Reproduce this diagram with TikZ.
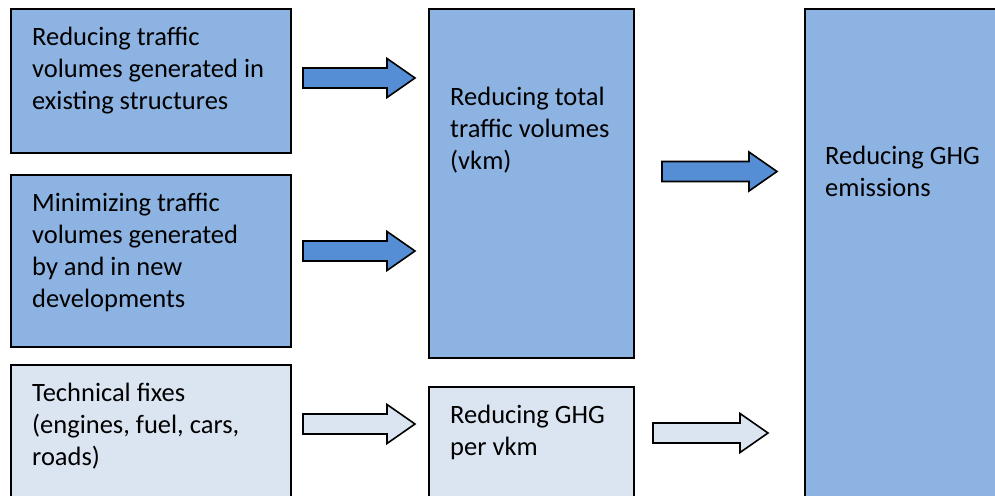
\documentclass[tikz,border=0pt]{standalone}
\usepackage{fontspec}
\setmainfont{Carlito}
\definecolor{boxdark}{HTML}{8DB3E2}
\definecolor{boxlight}{HTML}{DBE5F1}
\definecolor{arrowdark}{HTML}{558ED5}
\tikzset{
  box/.style={draw=black, line width=1.6pt, rectangle, inner sep=0pt, anchor=north west},
  darkbox/.style={box, fill=boxdark},
  lightbox/.style={box, fill=boxlight},
  txt/.style={anchor=base west, inner sep=0pt, align=left, font=\fontsize{26.5}{32}\selectfont},
  blockarrow/.style={draw=black, line width=1.6pt, line join=miter},
}
% block arrow: start x, tip x, centre y (y grows downward), fill colour
\newcommand{\myblockarrow}[4]{%
  \draw[blockarrow, fill=#4] (#1,#3-10) -- (#2-28,#3-10) -- (#2-28,#3-19.5) -- (#2,#3)
    -- (#2-28,#3+19.5) -- (#2-28,#3+10) -- (#1,#3+10) -- cycle;}
\begin{document}
\begin{tikzpicture}[x=1pt,y=-1pt]
\useasboundingbox (0,0) rectangle (995,495);
\clip (0,0) rectangle (995,495);
\fill[white] (0,0) rectangle (995,495);
% boxes
\node[darkbox, minimum width=280pt, minimum height=144pt] (b1) at (10,8) {};
\node[darkbox, minimum width=280pt, minimum height=172pt] (b2) at (10,174) {};
\node[lightbox, minimum width=280pt, minimum height=140pt] (b3) at (10,364) {};
\node[darkbox, minimum width=205pt, minimum height=349pt] (m1) at (428,8) {};
\node[lightbox, minimum width=205pt, minimum height=115pt] (m2) at (428,386) {};
\node[darkbox, minimum width=200pt, minimum height=495pt] (r) at (804,8) {};
% texts (anchored at the baseline of their last line)
\node[txt] (t1) at (32,109) {Reducing traffic\\volumes generated in\\existing structures};
\node[txt] (t2) at (32,307) {Minimizing traffic\\volumes generated\\by and in new\\developments};
\node[txt] (t3) at (32,465) {Technical fixes\\(engines, fuel, cars,\\roads)};
\node[txt] (t4) at (450,169) {Reducing total\\traffic volumes\\(vkm)};
\node[txt] (t5) at (450,455) {Reducing GHG\\per vkm};
\node[txt] (t6) at (825,196) {Reducing GHG\\emissions};
% arrows
\myblockarrow{303}{415}{78}{arrowdark}
\myblockarrow{303}{415}{251}{arrowdark}
\myblockarrow{303}{415}{424}{boxlight}
\myblockarrow{662}{777}{171.5}{arrowdark}
\myblockarrow{653}{768}{433}{boxlight}
\end{tikzpicture}
\end{document}
